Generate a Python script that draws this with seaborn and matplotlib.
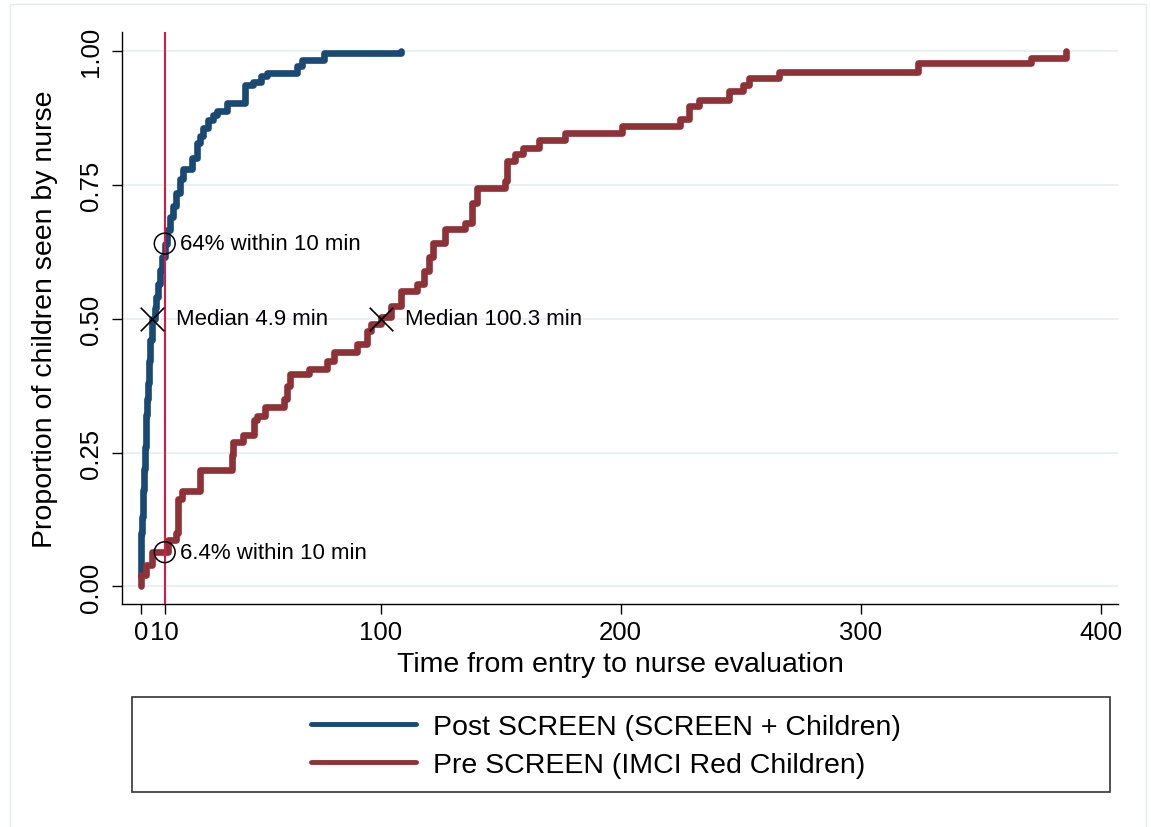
import numpy as np
import pandas as pd
import matplotlib
matplotlib.use("Agg")
import matplotlib.pyplot as plt
from matplotlib.patches import Rectangle
import seaborn as sns

# cumulative proportion seen by nurse (step events)
post_time = [0, 0.3, 0.6, 1.0, 1.4, 1.7, 2.0, 2.4, 2.8, 3.1, 3.5, 4.0, 4.5, 4.9, 5.8,
             6.5, 7.2, 8.0, 9.0, 10.0, 11.0, 12.1, 13.5, 14.9, 16.3, 17.7, 21.5, 23.3,
             24.5, 26.0, 28.2, 30.0, 31.7, 36.0, 43.5, 46.9, 50.0, 52.6, 65.0, 67.2,
             76.3, 108.6]
post_prop = [0.02, 0.10, 0.13, 0.18, 0.22, 0.26, 0.29, 0.32, 0.35, 0.38, 0.42, 0.46,
             0.48, 0.50, 0.52, 0.54, 0.565, 0.59, 0.615, 0.64, 0.665, 0.69, 0.71,
             0.735, 0.76, 0.78, 0.80, 0.828, 0.84, 0.855, 0.871, 0.88, 0.887, 0.903,
             0.937, 0.942, 0.952, 0.958, 0.972, 0.983, 0.996, 1.0]

pre_time = [0, 0.3, 2.4, 4.5, 10.7, 11.4, 14.9, 15.6, 17.0, 24.7, 37.9, 38.6, 42.8,
            47.0, 48.4, 51.9, 59.5, 61.0, 62.3, 70.0, 77.7, 80.5, 90.2, 94.4, 95.8,
            100.3, 104.2, 108.4, 115.1, 118.0, 120.0, 121.8, 126.7, 135.3, 138.2,
            140.1, 151.7, 152.6, 156.0, 159.3, 166.1, 176.7, 200.7, 224.8, 228.6,
            232.5, 245.0, 250.8, 253.6, 266.1, 323.8, 370.9, 385.4]
pre_prop = [0.0, 0.021, 0.04, 0.064, 0.064, 0.086, 0.10, 0.164, 0.179, 0.217, 0.245,
            0.27, 0.282, 0.31, 0.319, 0.335, 0.35, 0.375, 0.397, 0.406, 0.421, 0.437,
            0.452, 0.477, 0.49, 0.503, 0.524, 0.552, 0.564, 0.589, 0.615, 0.642,
            0.667, 0.679, 0.716, 0.744, 0.757, 0.794, 0.807, 0.819, 0.834, 0.847,
            0.859, 0.872, 0.896, 0.909, 0.924, 0.937, 0.949, 0.961, 0.977, 0.986, 1.0]

group_names = ["Post SCREEN (SCREEN + Children)", "Pre SCREEN (IMCI Red Children)"]

# annotation points
circle_x = [10, 10]
circle_y = [0.64, 0.064]
circle_text = ["64% within 10 min", "6.4% within 10 min"]
median_x = [4.9, 100.3]
median_y = [0.5, 0.5]
median_text = ["Median 4.9 min", "Median 100.3 min"]

x_ticks = [0, 10, 100, 200, 300, 400]
y_ticks = [0.0, 0.25, 0.5, 0.75, 1.0]

df = pd.concat([
    pd.DataFrame({"time": post_time, "prop": post_prop, "group": group_names[0]}),
    pd.DataFrame({"time": pre_time, "prop": pre_prop, "group": group_names[1]}),
], ignore_index=True)

sns.set_style("ticks")
plt.rcParams["font.family"] = ["Liberation Sans", "DejaVu Sans"]
plt.rcParams["text.color"] = "black"
plt.rcParams["axes.labelcolor"] = "black"
plt.rcParams["xtick.color"] = "black"
plt.rcParams["ytick.color"] = "black"

W, H = 1151, 828
fig = plt.figure(figsize=(W / 100, H / 100), dpi=100)
ax = fig.add_axes([122 / W, 1 - 605 / H, (1118 - 122) / W, (605 - 33) / H])

palette = {group_names[0]: "#1a4a73", group_names[1]: "#8e3238"}
sns.lineplot(data=df, x="time", y="prop", hue="group", hue_order=group_names,
             palette=palette, estimator=None, sort=False, drawstyle="steps-post",
             linewidth=4.8, solid_capstyle="round", solid_joinstyle="round",
             ax=ax, zorder=2)

ax.axvline(10, color="#dc1743", lw=1.5, zorder=3)

ax.scatter(circle_x, circle_y, s=15 ** 2, facecolors="none", edgecolors="black",
           linewidths=1.1, zorder=4)
ax.scatter(median_x, median_y, s=17 ** 2, marker="x", color="black",
           linewidths=1.2, zorder=4)
for x, y, t in zip(circle_x, circle_y, circle_text):
    ax.annotate(t, (x, y), xytext=(11, 0), textcoords="offset points",
                va="center", ha="left", fontsize=16, color="black")
for x, y, t in zip(median_x, median_y, median_text):
    ax.annotate(t, (x, y), xytext=(17, 0), textcoords="offset points",
                va="center", ha="left", fontsize=16, color="black")

ax.set_xlim(-7.8, 407.2)
ax.set_ylim(-0.0327, 1.035)
ax.set_xticks(x_ticks)
ax.set_xticklabels([str(v) for v in x_ticks])
ax.set_yticks(y_ticks)
ax.set_yticklabels([f"{v:.2f}" for v in y_ticks], rotation=90, va="center")
ax.tick_params(axis="both", length=7.5, width=1, color="black",
               labelcolor="black", labelsize=18.5, direction="out")
ax.tick_params(axis="x", pad=4)
ax.tick_params(axis="y", pad=6)

ax.grid(axis="y", color="#e8f0f2", lw=1.5)
ax.grid(axis="x", visible=False)
sns.despine(ax=ax)
for s in ["left", "bottom"]:
    ax.spines[s].set_color("black")
    ax.spines[s].set_linewidth(1.0)

ax.set_xlabel("Time from entry to nurse evaluation", fontsize=20.5, color="black")
ax.set_ylabel("Proportion of children seen by nurse", fontsize=20.5, color="black")
ax.xaxis.set_label_coords(0.5, -0.083)
ax.yaxis.set_label_coords(-0.064, 0.5)

sns.move_legend(ax, loc="center", bbox_to_anchor=(606 / W, 1 - 747 / H),
                bbox_transform=fig.transFigure, frameon=False, title=None,
                fontsize=20.5, handlelength=3.7, handletextpad=0.6,
                labelspacing=0.45, labelcolor="black")
for h in ax.get_legend().legend_handles:
    h.set_linewidth(3.5)

# legend frame and faint outer border, as in the Stata graph
fig.patches.append(Rectangle((132 / W, 1 - 793 / H), 978 / W, 95 / H,
                             transform=fig.transFigure, fill=False,
                             edgecolor="#333333", lw=1.2))
fig.patches.append(Rectangle((10 / W, -0.01), 1136 / W, 1.0 - 5 / H + 0.01,
                             transform=fig.transFigure, fill=False,
                             edgecolor="#e4eaec", lw=1))

fig.savefig("out.png", dpi=100)
